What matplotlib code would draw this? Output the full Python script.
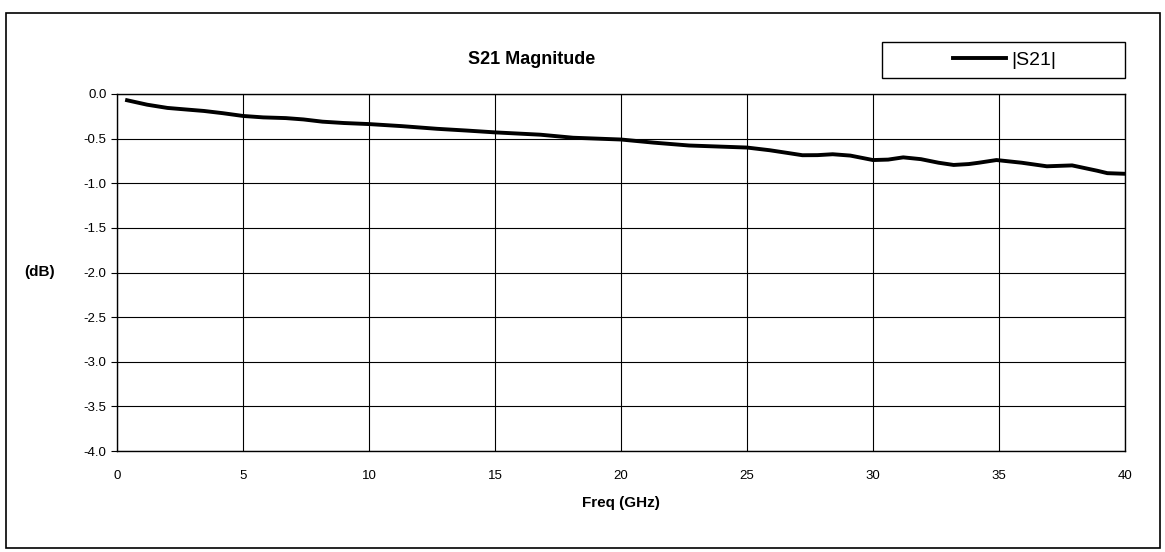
import matplotlib.pyplot as plt
from matplotlib.patches import Rectangle

plt.rcParams['font.family'] = ['Liberation Sans', 'DejaVu Sans']

freq = [0.4, 1.2, 2.0, 2.8, 3.45, 4.2, 5.0, 5.8, 6.7, 7.4, 8.15, 9.0, 10.0, 11.3, 12.7,
        13.9, 15.0, 16.8, 18.1, 20.0, 21.3, 22.7, 24.0, 25.0, 25.9, 26.6, 27.2, 27.8,
        28.4, 29.1, 30.0, 30.6, 31.2, 31.9, 32.6, 33.2, 33.8, 34.2, 34.9, 35.9,
        36.9, 37.9, 38.4, 38.9, 39.3, 40.0]
s21 = [-0.07, -0.12, -0.156, -0.175, -0.19, -0.215, -0.246, -0.262, -0.27, -0.285,
       -0.31, -0.325, -0.337, -0.36, -0.39, -0.41, -0.43, -0.456, -0.49, -0.51, -0.545,
       -0.577, -0.59, -0.60, -0.63, -0.66, -0.686, -0.685, -0.675, -0.69, -0.74, -0.735,
       -0.71, -0.73, -0.77, -0.795, -0.785, -0.77, -0.74, -0.77, -0.81, -0.80, -0.83,
       -0.86, -0.887, -0.894]

xticks = [0, 5, 10, 15, 20, 25, 30, 35, 40]
yticks = [0.0, -0.5, -1.0, -1.5, -2.0, -2.5, -3.0, -3.5, -4.0]

W, H = 1165, 552
fig = plt.figure(figsize=(W / 100, H / 100), dpi=100)
ax = fig.add_axes([117 / W, 1 - 451 / H, (1125 - 117) / W, (451 - 94) / H])

ax.plot(freq, s21, color='black', linewidth=2.8, label='|S21|')
ax.set_xlim(0, 40)
ax.set_ylim(-4.0, 0.0)
ax.set_xticks(xticks)
ax.set_yticks(yticks)
ax.set_yticklabels(['%.1f' % v for v in yticks])
ax.grid(True, color='black', linewidth=0.8)
ax.tick_params(axis='x', length=0, labelsize=9.5, pad=14)
ax.tick_params(axis='y', length=4, labelsize=9.5, direction='out')
for s in ax.spines.values():
    s.set_linewidth(1.0)
    s.set_color('black')

ax.set_xlabel('Freq (GHz)', fontsize=11, fontweight='bold', labelpad=10)
fig.text(40 / W, 1 - 272 / H, '(dB)', fontsize=11, fontweight='bold',
         ha='center', va='center')
fig.text(532 / W, 1 - 59 / H, 'S21 Magnitude', fontsize=13, fontweight='bold',
         ha='center', va='center')

# legend: box drawn by hand, legend itself without frame
fig.patches.append(Rectangle((882 / W, 1 - 78 / H), (1125 - 882) / W, (78 - 42) / H,
                             transform=fig.transFigure, fill=False, edgecolor='black',
                             linewidth=1.0))
ax.legend(loc='center', bbox_to_anchor=(1005 / W, 1 - 60 / H),
          bbox_transform=fig.transFigure, frameon=False, fontsize=14,
          handlelength=2.7, handletextpad=0.3, borderpad=0, borderaxespad=0)

# outer chart border
fig.patches.append(Rectangle((6 / W, 1 - 548 / H), 1154 / W, (548 - 13) / H,
                             transform=fig.transFigure, fill=False, edgecolor='black',
                             linewidth=1.2))

fig.savefig('out.png', dpi=100)
